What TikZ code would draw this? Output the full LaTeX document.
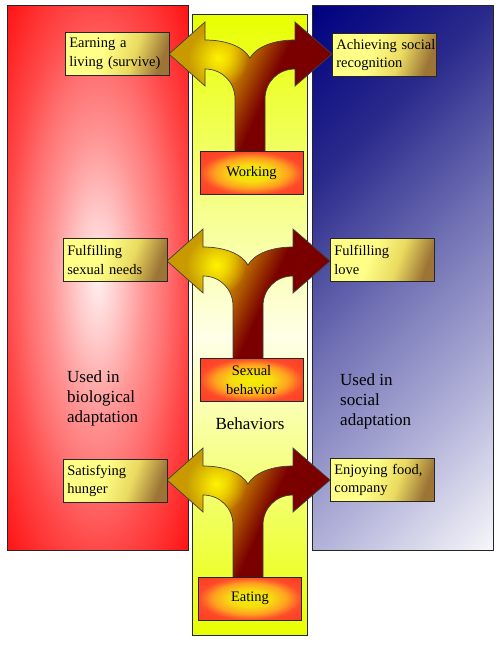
\documentclass[tikz,border=0pt]{standalone}
\usepackage{fontspec}
\setmainfont{Liberation Serif}
\usetikzlibrary{fadings}

\definecolor{rc0}{HTML}{FFF0F0}
\definecolor{rc1}{HTML}{FFC8C8}
\definecolor{rc2}{HTML}{FF9494}
\definecolor{rc3}{HTML}{FF7070}
\definecolor{rc4}{HTML}{FF4848}
\definecolor{rc5}{HTML}{FF1010}
\definecolor{yc0}{HTML}{E8FF00}
\definecolor{yc1}{HTML}{FFFFE8}
\definecolor{bc0}{HTML}{000080}
\definecolor{bc1}{HTML}{2A2A8C}
\definecolor{bc2}{HTML}{7070B4}
\definecolor{bc3}{HTML}{B0B0D8}
\definecolor{bc4}{HTML}{F6F6FA}
\definecolor{tb0}{HTML}{FFFF88}
\definecolor{tb1}{HTML}{EADA60}
\definecolor{tb2}{HTML}{9C7436}
\definecolor{oc0}{HTML}{F0F000}
\definecolor{oc1}{HTML}{F6DC10}
\definecolor{oc2}{HTML}{FFA020}
\definecolor{oc3}{HTML}{FF6028}
\definecolor{oc4}{HTML}{FF4A2A}
\definecolor{oc5}{HTML}{FF3A22}
\definecolor{ac0}{HTML}{C89A00}
\definecolor{ac1}{HTML}{D8A800}
\definecolor{ac2}{HTML}{B86800}
\definecolor{ac3}{HTML}{902400}
\definecolor{ac4}{HTML}{7A0000}
\definecolor{glowc}{HTML}{FFF400}

% note: a shaded path's bounding box maps to 25bp..75bp of the shading
\pgfdeclareradialshading{redrad}{\pgfpoint{0bp}{0bp}}{color(0bp)=(rc0); color(6bp)=(rc1); color(13bp)=(rc2); color(19bp)=(rc3); color(25bp)=(rc4); color(36bp)=(rc5); color(50bp)=(red)}
\pgfdeclareverticalshading{yelvert}{100bp}{color(0bp)=(yc0); color(25bp)=(yc0); color(49bp)=(yc1); color(75bp)=(yc0); color(100bp)=(yc0)}
\pgfdeclarehorizontalshading{bluediag}{100bp}{color(0bp)=(bc0); color(28bp)=(bc0); color(39bp)=(bc1); color(50bp)=(bc2); color(61bp)=(bc3); color(72bp)=(bc4); color(100bp)=(bc4)}
\pgfdeclarehorizontalshading{boxshade}{100bp}{color(0bp)=(tb0); color(42bp)=(tb0); color(59bp)=(tb1); color(75bp)=(tb2); color(100bp)=(tb2)}
\pgfdeclareradialshading{orangerad}{\pgfpoint{0bp}{0bp}}{color(0bp)=(oc0); color(10bp)=(oc1); color(18bp)=(oc2); color(23bp)=(oc3); color(25bp)=(oc4); color(36bp)=(oc5); color(50bp)=(oc5)}
\pgfdeclarehorizontalshading{arrowshade}{100bp}{color(0bp)=(ac0); color(39.5bp)=(ac0); color(43.5bp)=(ac1); color(47.5bp)=(ac2); color(51.25bp)=(ac3); color(53.5bp)=(ac4); color(100bp)=(ac4)}

\tikzfading[name=glowfade, inner color=transparent!0, outer color=transparent!100]

\newcommand{\boxfont}{\fontsize{14.5}{18.5}\selectfont}
\newcommand{\bigfont}{\fontsize{17}{20}\selectfont}

\newcommand{\arrowpath}[3]{({#1-81},{#2}) -- ({#1-45},{#2-32}) -- ({#1-45},{#2-14})
  .. controls ({#1-25},{#2-14}) and ({#1-7},{#2-8}) .. ({#1},{#2+4})
  .. controls ({#1+7},{#2-8}) and ({#1+25},{#2-14}) .. ({#1+45},{#2-14})
  -- ({#1+45},{#2-32}) -- ({#1+82},{#2}) -- ({#1+45},{#2+32}) -- ({#1+45},{#2+15})
  .. controls ({#1+28},{#2+15}) and ({#1+15},{#2+28}) .. ({#1+15},{#2+45})
  -- ({#1+15},{#3}) -- ({#1-15},{#3}) -- ({#1-15},{#2+45})
  .. controls ({#1-15},{#2+28}) and ({#1-28},{#2+15}) .. ({#1-45},{#2+15})
  -- ({#1-45},{#2+32}) -- cycle}

\newcommand{\behavarrow}[3]{%
  \begin{scope}
    \clip \arrowpath{#1}{#2}{#3};
    \shade[shading=arrowshade, transform canvas={rotate around={-25:({#1},{#2+32})}}]
      ({#1-130},{#2+32-130}) rectangle ({#1+130},{#2+32+130});
    \fill[glowc, path fading=glowfade] ({#1-32},{#2+4}) circle (30);
  \end{scope}
  \draw[arrowline] \arrowpath{#1}{#2}{#3};
}

\begin{document}
\begin{tikzpicture}[x=1pt, y=-1pt,
  panelline/.style={draw=black!85, line width=0.8pt},
  arrowline/.style={draw=black!75, line width=0.7pt, line join=miter},
  tbox/.style={shade, shading=boxshade, shading angle=-20, draw=black!85, line width=0.7pt,
    text width=96pt, inner xsep=4pt, inner ysep=0pt, minimum height=43pt,
    align=left, font=\boxfont, anchor=north west},
  obox/.style={shade, shading=orangerad, draw=black!85, line width=0.7pt,
    minimum width=103pt, minimum height=43pt, inner sep=0pt, align=center, font=\boxfont},
  bigtext/.style={font=\bigfont, align=left, inner sep=0pt}]

\useasboundingbox[fill=white] (0,0) rectangle (500,646);

% panels
\shade[shading=redrad] (7,5) rectangle (188,550);
\draw[panelline] (7,5) rectangle (188,550);
\shade[shading=yelvert] (192,14) rectangle (307,635);
\draw[panelline] (192,14) rectangle (307,635);
\begin{scope}
  \clip (312,5) rectangle (493,550);
  \shade[shading=bluediag, transform canvas={rotate around={-45:(402.5,277.5)}}]
    (112.5,-12.5) rectangle (692.5,567.5);
\end{scope}
\draw[panelline] (312,5) rectangle (493,550);

% arrows
\behavarrow{250}{54}{156}
\behavarrow{248}{261}{362}
\behavarrow{248}{480}{581}

% outcome boxes
\node[tbox] (b1) at (65,32) {Earning a\\living (survive)};
\node[tbox] (b2) at (332,33) {\mbox{Achieving social}\\recognition};
\node[tbox] (b3) at (63,238) {Fulfilling\\sexual needs};
\node[tbox] (b4) at (330,238) {Fulfilling\\love};
\node[tbox] (b5) at (63,459) {Satisfying\\hunger};
\node[tbox] (b6) at (330,458) {Enjoying food,\\company};

% behaviour boxes
\node[obox] (w) at (251.5,173) {Working};
\node[obox] (s) at (251.5,380) {Sexual\\behavior};
\node[obox] (e) at (250,598.5) {Eating};

% panel labels
\node[bigtext, anchor=west] (lbio) at (67,398) {Used in\\biological\\adaptation};
\node[bigtext, anchor=west] (lsoc) at (340,401) {Used in\\social\\adaptation};
\node[bigtext] (lbeh) at (250,424) {Behaviors};
\end{tikzpicture}
\end{document}
